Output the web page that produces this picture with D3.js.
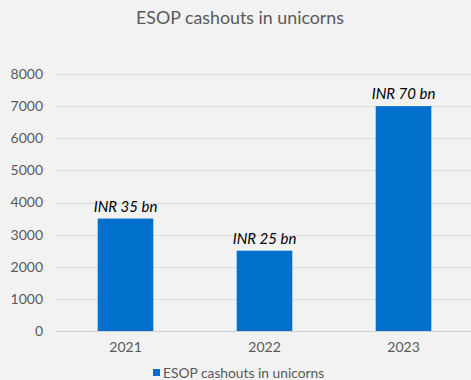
<!DOCTYPE html>
<html><head><meta charset="utf-8">
<script src="https://cdn.jsdelivr.net/npm/d3@7"></script>
<style>
html,body{margin:0;padding:0;background:#f2f2f2;}
svg{display:block;}
</style></head>
<body>
<script>
const categories = ["2021", "2022", "2023"];
const values = [3500, 2500, 7000];
const barLabels = ["INR 35 bn", "INR 25 bn", "INR 70 bn"];
const yTicks = [0, 1000, 2000, 3000, 4000, 5000, 6000, 7000, 8000];
const title = "ESOP cashouts in unicorns";
const seriesName = "ESOP cashouts in unicorns";

const W = 471, H = 380;
const svg = d3.select("body").append("svg").attr("width", W).attr("height", H);
svg.append("rect").attr("width", W).attr("height", H).attr("fill", "#f2f2f2");

const font = "Lato, 'Open Sans', sans-serif";
const x = d3.scaleBand().domain(categories).range([56, 473]).paddingInner(0.6).paddingOuter(0.3);
const y = d3.scaleLinear().domain([0, 8000]).range([331, 74]);

svg.append("text").attr("x", 240).attr("y", 24).attr("text-anchor", "middle")
  .attr("font-family", font).attr("font-size", 17.8).attr("fill", "#595959").text(title);

// grid
svg.append("g").selectAll("line").data(yTicks).join("line")
  .attr("x1", 56).attr("x2", W).attr("y1", d => Math.round(y(d)) + 0.5).attr("y2", d => Math.round(y(d)) + 0.5)
  .attr("stroke", d => d === 0 ? "#d0d0d0" : "#dcdcdc").attr("stroke-width", 1);

// y labels
const yAxis = svg.append("g").attr("transform", "translate(56,0)")
  .call(d3.axisLeft(y).tickValues(yTicks).tickFormat(d3.format("d")).tickSize(0).tickPadding(13));
yAxis.select(".domain").remove();
yAxis.selectAll("text").attr("font-family", font).attr("font-size", 14).attr("fill", "#595959");

// x labels
const xAxis = svg.append("g").attr("transform", "translate(0,331)")
  .call(d3.axisBottom(x).tickSize(0).tickPadding(11));
xAxis.select(".domain").remove();
xAxis.selectAll("text").attr("font-family", font).attr("font-size", 14).attr("fill", "#595959");

// bars
svg.append("g").selectAll("rect").data(values).join("rect")
  .attr("x", (d, i) => x(categories[i])).attr("width", x.bandwidth())
  .attr("y", d => y(d)).attr("height", d => y(0) - y(d))
  .attr("fill", "#0070cc");

// bar labels
svg.append("g").selectAll("text").data(values).join("text")
  .attr("x", (d, i) => x(categories[i]) + x.bandwidth() / 2)
  .attr("y", d => y(d) - 7)
  .attr("text-anchor", "middle").attr("font-family", font).attr("font-style", "italic")
  .attr("font-size", 15).attr("fill", "#000").text((d, i) => barLabels[i]);

// legend
svg.append("rect").attr("x", 153).attr("y", 369).attr("width", 7).attr("height", 7).attr("fill", "#0070cc");
svg.append("text").attr("x", 163).attr("y", 378).attr("font-family", font).attr("font-size", 13.8)
  .attr("fill", "#595959").text(seriesName);
</script>
</body></html>
